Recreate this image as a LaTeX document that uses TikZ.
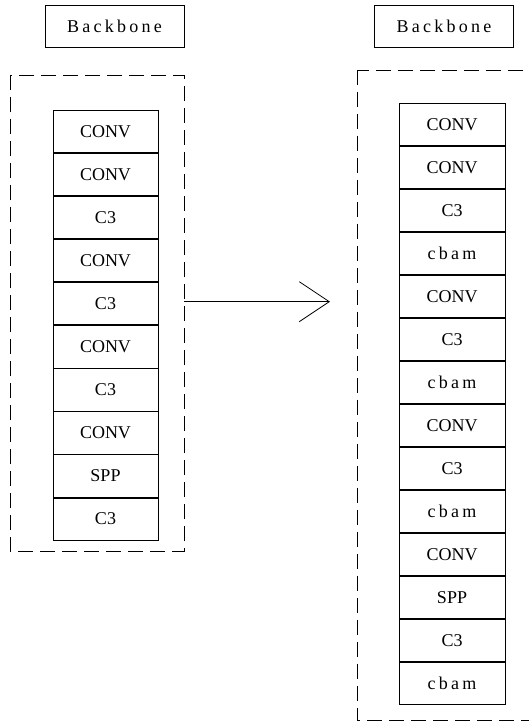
\documentclass[tikz,border=0pt]{standalone}
\usepackage{fontspec}
\setmainfont{Liberation Serif}
\usepackage{tikz}
\usetikzlibrary{positioning,arrows.meta}
\newfontfamily\widefont{Liberation Serif}[LetterSpace=18]

\begin{document}
\begin{tikzpicture}[x=1pt,y=-1pt,
    layer/.style={draw, line width=0.7pt, minimum width=105pt, minimum height=42.4pt, inner sep=0pt, font=\fontsize{18}{20}\selectfont},
    title/.style={draw, line width=0.8pt, minimum width=139pt, minimum height=42pt, inner sep=0pt, font=\fontsize{18}{20}\selectfont\widefont},
    frame/.style={dashed, dash pattern=on 15pt off 7pt, line width=0.8pt}]
            \useasboundingbox (0,0) rectangle (529,727);
            \clip (0,0) rectangle (529,727);

            % Titles
            \node[title] (lefttitle) at (114.5,26) {Backbone};
            \node[title] (righttitle) at (444,26) {Backbone};

            % Dashed frames
            \draw[frame] (10,75) rectangle (184,551);
            \draw[frame] (357,70) rectangle (560,720);

            % Left stack
            \node[layer] (l1) at (105.5,131.2) {CONV};
            \foreach \txt [count=\i from 2, evaluate=\i as \j using int(\i-1)] in {CONV,C3,CONV,C3,CONV,C3,CONV,SPP,C3}
                \node[layer, below=0pt of l\j] (l\i) {\txt};

            % Right stack
            \node[layer, minimum width=106pt, minimum height=42.3pt] (r1) at (452,124.2) {CONV};
            \foreach \txt [count=\i from 2, evaluate=\i as \j using int(\i-1)] in {CONV,C3,\widefont cbam,CONV,C3,\widefont cbam,CONV,C3,\widefont cbam,CONV,SPP,C3,\widefont cbam}
                \node[layer, minimum width=106pt, minimum height=42.3pt, below=0pt of r\j] (r\i) {\txt};

            % Arrow
            \coordinate (arrowstart) at (184,301.7);
            \coordinate (arrowend) at (330,301.7);
            \draw[line width=0.8pt, -{Straight Barb[length=30pt,width=40pt,line width=0.8pt]}] (arrowstart) -- (arrowend);
        \end{tikzpicture}
\end{document}
